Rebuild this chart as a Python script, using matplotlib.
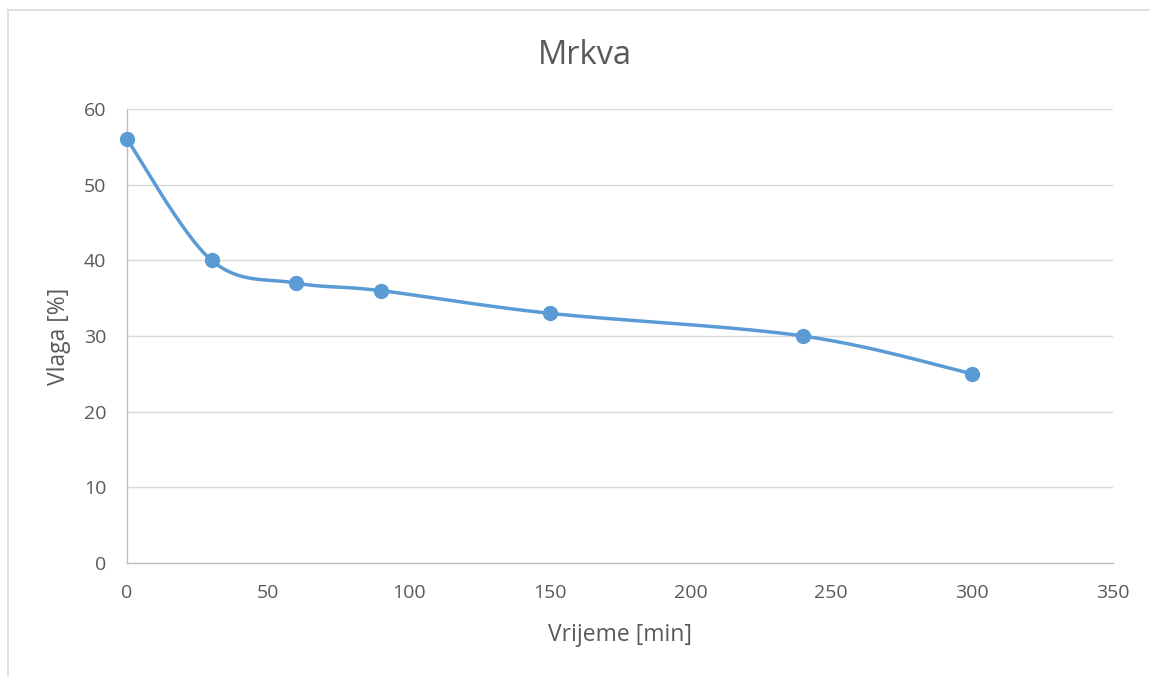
import numpy as np
import matplotlib
matplotlib.use("Agg")
import matplotlib.pyplot as plt
from matplotlib.lines import Line2D

plt.rcParams['font.family'] = ['Open Sans', 'DejaVu Sans']

title = "Mrkva"
xlabel = "Vrijeme [min]"
ylabel = "Vlaga [%]"
time_min = [0, 30, 60, 90, 150, 240, 300]
moisture = [56, 40, 37, 36, 33, 30, 25]
xticks = [0, 50, 100, 150, 200, 250, 300, 350]
yticks = [0, 10, 20, 30, 40, 50, 60]

color = "#5B9BD5"
text_color = "#595959"

fig = plt.figure(figsize=(11.5, 6.77), dpi=100)
ax = fig.add_axes([127/1150, 1-563/677, (1113-127)/1150, (563-109)/677])

# Excel-style smoothed line (cardinal Bezier through data points)
x = np.array(time_min, float)
y = np.array(moisture, float)
n = len(x)
px, py = [], []
t = np.linspace(0, 1, 40)
for i in range(n - 1):
    x0, y0 = (x[i-1], y[i-1]) if i > 0 else (x[i], y[i])
    x3, y3 = (x[i+2], y[i+2]) if i + 2 < n else (x[i+1], y[i+1])
    x1, y1 = x[i], y[i]
    x2, y2 = x[i+1], y[i+1]
    c1x = x1 + (x2 - x0) / 6
    c1y = y1 + (y2 - y0) / 6
    c2x = x2 - (x3 - x1) / 6
    c2y = y2 - (y3 - y1) / 6
    bx = (1-t)**3*x1 + 3*(1-t)**2*t*c1x + 3*(1-t)*t**2*c2x + t**3*x2
    by = (1-t)**3*y1 + 3*(1-t)**2*t*c1y + 3*(1-t)*t**2*c2y + t**3*y2
    px.extend(bx); py.extend(by)

ax.plot(px, py, color=color, lw=2.5, solid_capstyle='round', zorder=3)
ax.plot(time_min, moisture, 'o', color=color, ms=10, zorder=4, clip_on=False)

ax.set_xlim(0, 350)
ax.set_ylim(0, 60)
ax.set_xticks(xticks)
ax.set_yticks(yticks)
ax.grid(axis='y', color='#D9D9D9', lw=1)
ax.set_axisbelow(True)
for s in ['top', 'right']:
    ax.spines[s].set_visible(False)
for s in ['left', 'bottom']:
    ax.spines[s].set_color('#BFBFBF')
    ax.spines[s].set_linewidth(1)
ax.tick_params(length=0, labelsize=14, labelcolor=text_color)
ax.tick_params(axis='x', pad=15)
ax.tick_params(axis='y', pad=15)
ax.set_xlabel(xlabel, fontsize=16.5, color=text_color, labelpad=15)
ax.set_ylabel(ylabel, fontsize=16.5, color=text_color, labelpad=9)
fig.text(585/1150, 1-55/677, title, fontsize=23.5, color=text_color,
         ha='center', va='center')

# chart border (only left and top visible)
fig.add_artist(Line2D([8/1150, 8/1150], [0, 1-10/677], color='#D9D9D9', lw=1.2, transform=fig.transFigure))
fig.add_artist(Line2D([8/1150, 1], [1-10/677, 1-10/677], color='#D9D9D9', lw=1.2, transform=fig.transFigure))

fig.savefig("out.png", dpi=100)
